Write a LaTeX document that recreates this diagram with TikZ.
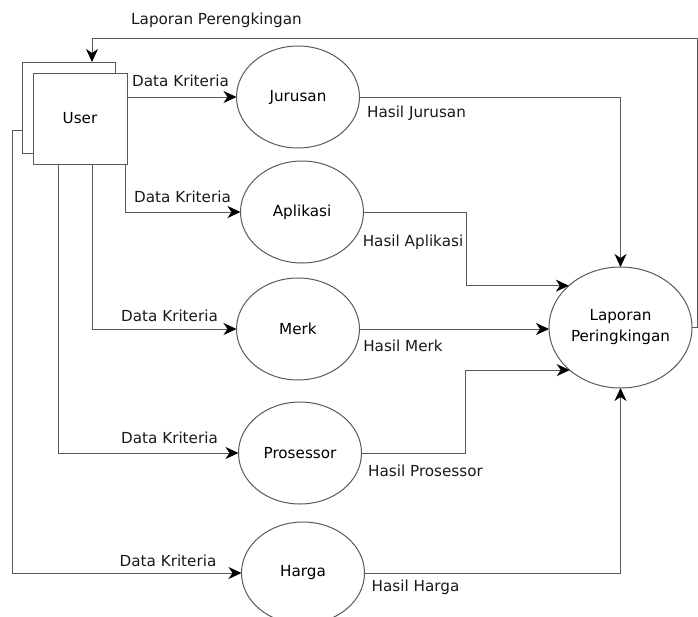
\documentclass[tikz,border=0pt]{standalone}
\usepackage{fontspec}
\setmainfont{DejaVu Sans}
\usetikzlibrary{shapes.geometric,arrows.meta}

\begin{document}
\begin{tikzpicture}[x=1pt,y=-1pt,
  font=\fontsize{15.2pt}{21pt}\selectfont,
  proses/.style={ellipse,draw=black!65,line width=1pt,inner sep=0pt,outer sep=0pt,
    minimum width=123pt,minimum height=102pt},
  entitas/.style={rectangle,draw=black!65,fill=white,line width=1pt,outer sep=0pt},
  flow/.style={draw=black!65,line width=1pt,
    -{Stealth[length=13pt,width=12pt,inset=4pt,color=black]}},
  ket/.style={inner sep=0pt,text=black!90}]

  \useasboundingbox (0,0) rectangle (698,616);

  \node [entitas,minimum width=93pt,minimum height=91pt] (userb) at (68.5,107.5) {};
  \node [entitas,minimum width=94pt,minimum height=91pt] (user) at (80,118.5) {User};

  \node [proses] (jur) at (298,97) {Jurusan};
  \node [proses] (apl) at (302,212) {Aplikasi};
  \node [proses] (mer) at (298,329) {Merk};
  \node [proses] (pro) at (300,453) {Prosessor};
  \node [proses] (har) at (303,573) {Harga};
  \node [proses,minimum width=143pt,minimum height=121pt,align=center] (lap)
    at (620.5,327.5) {Laporan\\Peringkingan};

  \draw [flow] (user.east |- jur) -- (jur);
  \draw [flow] ([xshift=45pt]user.south) |- (apl);
  \draw [flow] ([xshift=12pt]user.south) |- (mer);
  \draw [flow] ([xshift=-22pt]user.south) |- (pro);
  \draw [flow] ([yshift=-22.5pt]userb.west) -- ++(-10,0) |- (har);

  \draw [flow] (jur) -| (lap);
  \draw [flow] (apl.east) -- ++(103,0) |- (lap.141);
  \draw [flow] (mer) -- (mer -| lap.west);
  \draw [flow] (pro.east) -- ++(104,0) |- (lap.220);
  \draw [flow] (har) -| (lap);
  \draw [flow] (lap.east) -- ++(5,0) -- ++(0,-289.5) -| ([xshift=23.5pt]userb.north);

  \node [ket] (dk1) at (180.5,81) {Data Kriteria};
  \node [ket] (dk2) at (182.5,197) {Data Kriteria};
  \node [ket] (dk3) at (169.5,316) {Data Kriteria};
  \node [ket] (dk4) at (169.5,438) {Data Kriteria};
  \node [ket] (dk5) at (168,561) {Data Kriteria};
  \node [ket] (lp) at (216.5,20) {Laporan Perengkingan};

  \node [ket] (hj) at (416.5,113) {Hasil Jurusan};
  \node [ket] (ha) at (413,242) {Hasil Aplikasi};
  \node [ket] (hm) at (403,346) {Hasil Merk};
  \node [ket] (hp) at (425.5,471) {Hasil Prosessor};
  \node [ket] (hh) at (415.5,587) {Hasil Harga};
\end{tikzpicture}
\end{document}
